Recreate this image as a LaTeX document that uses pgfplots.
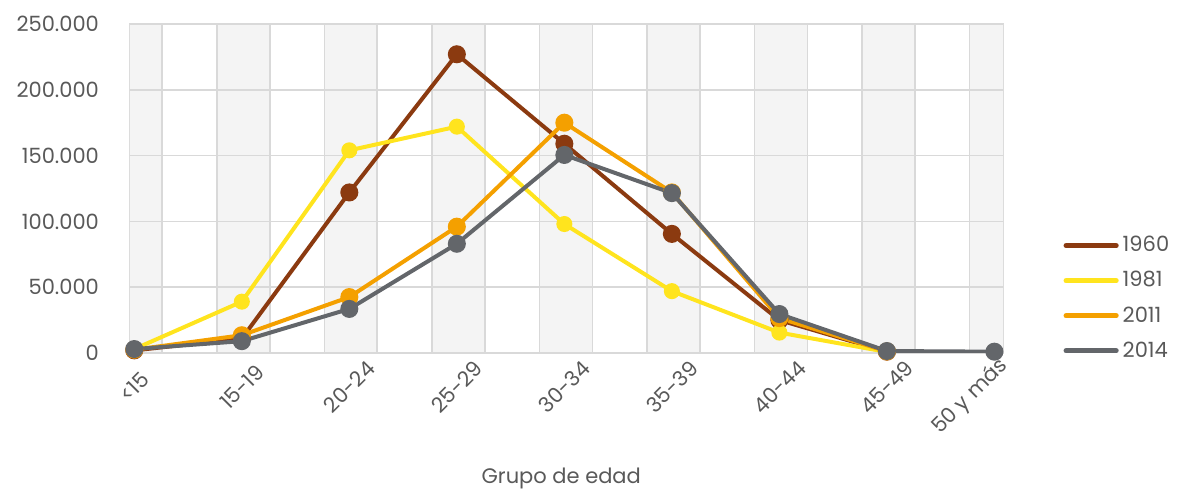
\documentclass[border=0pt]{standalone}
\usepackage{fontspec}
\setmainfont{Poppins}
\usepackage{pgfplots}
\pgfplotsset{compat=1.18}

\definecolor{c1960}{RGB}{139,58,16}
\definecolor{c1981}{RGB}{255,228,30}
\definecolor{c2011}{RGB}{244,160,0}
\definecolor{c2014}{RGB}{99,102,106}
\definecolor{txtgray}{RGB}{89,89,89}
\definecolor{gridgray}{RGB}{217,217,217}
\definecolor{bandgray}{RGB}{244,244,244}

\begin{document}
\begin{tikzpicture}
\begin{axis}[
    name=ax,
    scale only axis,
    width=436.5pt, height=164.5pt,
    xmin=-0.04, xmax=8.08,
    ymin=0, ymax=250000,
    xtick={0,...,7},
    xticklabels={<15,15-19,20-24,25-29,30-34,35-39,40-44,45-49},
    extra x ticks={8},
    extra x tick labels={50 y más},
    extra x tick style={xticklabel style={rotate=-45, xshift=-12pt, yshift=-5pt, rotate=45}},
    ytick={0,50000,100000,150000,200000,250000},
    scaled y ticks=false,
    /pgf/number format/fixed,
    /pgf/number format/1000 sep={.},
    /pgf/number format/assume math mode=true,
    major tick length=0pt,
    tick label style={font=\fontsize{10.5}{12}\selectfont, text=txtgray},
    yticklabel style={xshift=-12pt},
    xticklabel style={yshift=-17pt, rotate=45, anchor=center},
    axis line style={gridgray, line width=0.8pt},
    xlabel={Grupo de edad},
    xlabel style={at={(axis description cs:0.494,-0.38)}, anchor=center,
        font=\fontsize{10.5}{12}\selectfont, text=txtgray},
    legend style={at={(rel axis cs:1.062,0.38)}, anchor=north west,
        draw=none, fill=none, font=\fontsize{10.5}{12}\selectfont,
        text=txtgray, row sep=4.3pt, cells={anchor=west}},
    legend cell align=left,
    legend image code/.code={\draw[line width=2.6pt, line cap=round, #1] (0pt,0pt) -- (25pt,0pt);},
]
% shaded bands
\addplot[ybar, bar width=0.49, fill=bandgray, draw=gridgray, line width=0.8pt, forget plot]
    coordinates {(0.015,250000) (1.015,250000) (2.015,250000) (3.015,250000) (4.015,250000)
                 (5.015,250000) (6.015,250000) (7.015,250000) (8.015,250000)};
% horizontal grid lines
\pgfplotsinvokeforeach{50000,100000,150000,200000}{
  \addplot[gridgray, line width=0.8pt, forget plot] coordinates {(-1,#1) (9,#1)};
}
\addplot[c1960, line width=2pt, mark=*, mark size=3.5pt, mark options={draw=c1960, fill=c1960}] coordinates {
    (0,2000) (1,11000) (2,122000) (3,227000) (4,159000) (5,90500) (6,25000) (7,1000)
};
\addlegendentry{1960}
\addplot[c1981, line width=2pt, mark=*, mark size=3pt, mark options={draw=c1981, fill=c1981}] coordinates {
    (0,3000) (1,39000) (2,154000) (3,172000) (4,98000) (5,47000) (6,15500) (7,800)
};
\addlegendentry{1981}
\addplot[c2011, line width=2pt, mark=*, mark size=3.5pt, mark options={draw=c2011, fill=c2011}] coordinates {
    (0,2500) (1,13500) (2,42500) (3,96000) (4,175000) (5,122000) (6,26500) (7,1200)
};
\addlegendentry{2011}
\addplot[c2014, line width=2pt, mark=*, mark size=3.5pt, mark options={draw=c2014, fill=c2014}] coordinates {
    (0,3000) (1,9000) (2,33500) (3,83000) (4,150500) (5,121500) (6,29600) (7,1500) (8,1000)
};
\addlegendentry{2014}
\end{axis}
\pgfresetboundingbox
\path ([xshift=-65pt,yshift=-69.5pt]ax.south west) rectangle ([xshift=89pt,yshift=12pt]ax.north east);
\end{tikzpicture}
\end{document}
